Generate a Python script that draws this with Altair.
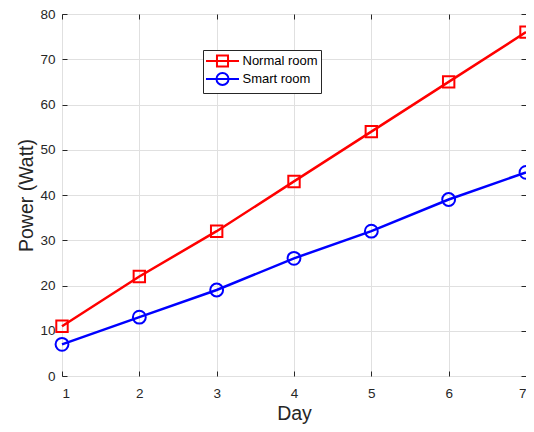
import altair as alt
import pandas as pd

days = [1, 2, 3, 4, 5, 6, 7]
normal_room = [11, 22, 32, 43, 54, 65, 76]
smart_room = [7, 13, 19, 26, 32, 39, 45]
series_names = ["Normal room", "Smart room"]
series_colors = ["#ff0000", "#0000ff"]
x_ticks = [1, 2, 3, 4, 5, 6, 7]
y_ticks = [0, 10, 20, 30, 40, 50, 60, 70, 80]

rows = []
for d, v in zip(days, normal_room):
    rows.append({"day": d, "power": v, "series": series_names[0]})
for d, v in zip(days, smart_room):
    rows.append({"day": d, "power": v, "series": series_names[1]})
df = pd.DataFrame(rows)

FONT = "Liberation Sans"
AX = "#262626"

cscale = alt.Scale(domain=series_names, range=series_colors)
xscale = alt.Scale(domain=[1, 7], nice=False)
yscale = alt.Scale(domain=[0, 80], nice=False)

common_axis = dict(
    domain=False, ticks=True, tickSize=5, offset=-5, tickColor=AX, tickWidth=1,
    labelColor=AX, labelFont=FONT, labelFontSize=13.5,
    gridColor="#e0e0e0", gridWidth=1,
)
title_style = dict(titleFont=FONT, titleFontSize=19.5, titleFontWeight="normal", titleColor=AX)

x_bottom = alt.Axis(orient="bottom", values=x_ticks, title="Day", grid=True,
                    labelPadding=10, titlePadding=5, format="d", **common_axis, **title_style)
y_left = alt.Axis(orient="left", values=y_ticks, title="Power (Watt)", grid=True,
                  labelPadding=7, titlePadding=3, format="d", **common_axis, **title_style)
x_top = alt.Axis(orient="top", values=x_ticks, title=None, grid=False, labels=False, **common_axis)
y_right = alt.Axis(orient="right", values=y_ticks, title=None, grid=False, labels=False, **common_axis)

sq_path = "M-2.36,0H2.36M-0.79,-0.79H0.79V0.79H-0.79Z"
ci_path = "M-2.36,0H2.36M0.86,0A0.86,0.86 0 1,1 -0.86,0A0.86,0.86 0 1,1 0.86,0Z"

legend = alt.Legend(
    title=None, orient="none", legendX=141, legendY=36,
    labelFont=FONT, labelFontSize=13, labelColor="#000000",
    symbolSize=196, symbolStrokeWidth=2, symbolOpacity=1,
    symbolOffset=8.5, labelOffset=12, rowPadding=-3, padding=3,
    strokeColor=AX, fillColor="#ffffff", cornerRadius=0,
)

base = alt.Chart(df)

legend_layer = base.mark_point(size=196, strokeWidth=2, filled=False, strokeOpacity=0).encode(
    x=alt.X("day:Q", scale=xscale, axis=None),
    y=alt.Y("power:Q", scale=yscale, axis=None),
    color=alt.Color("series:N", scale=cscale, legend=legend),
    shape=alt.Shape("series:N", scale=alt.Scale(domain=series_names, range=[sq_path, ci_path]),
                    legend=legend),
)

lines = base.mark_line(strokeWidth=2.5).encode(
    x=alt.X("day:Q", scale=xscale, axis=x_bottom),
    y=alt.Y("power:Q", scale=yscale, axis=y_left),
    color=alt.Color("series:N", scale=cscale, legend=None),
    detail="series:N",
)

sq = base.transform_filter(alt.datum.series == series_names[0]).mark_point(
    shape="square", size=130, strokeWidth=2, filled=False, opacity=1
).encode(
    x=alt.X("day:Q", scale=xscale, axis=x_top),
    y=alt.Y("power:Q", scale=yscale, axis=None),
    color=alt.Color("series:N", scale=cscale, legend=None),
)

ci = base.transform_filter(alt.datum.series == series_names[1]).mark_point(
    shape="circle", size=165, strokeWidth=2, filled=False, opacity=1
).encode(
    x=alt.X("day:Q", scale=xscale, axis=None),
    y=alt.Y("power:Q", scale=yscale, axis=y_right),
    color=alt.Color("series:N", scale=cscale, legend=None),
)

chart = alt.layer(legend_layer, lines, sq, ci).resolve_axis(
    x="independent", y="independent"
).properties(
    width=464, height=362,
    background="#ffffff",
    autosize=alt.AutoSizeParams(type="none"),
    padding={"left": 54, "top": 6, "right": 0, "bottom": 48},
).configure_view(
    stroke=AX, strokeWidth=1
)

chart.save("out.html", embed_options={"renderer": "svg", "actions": False})
